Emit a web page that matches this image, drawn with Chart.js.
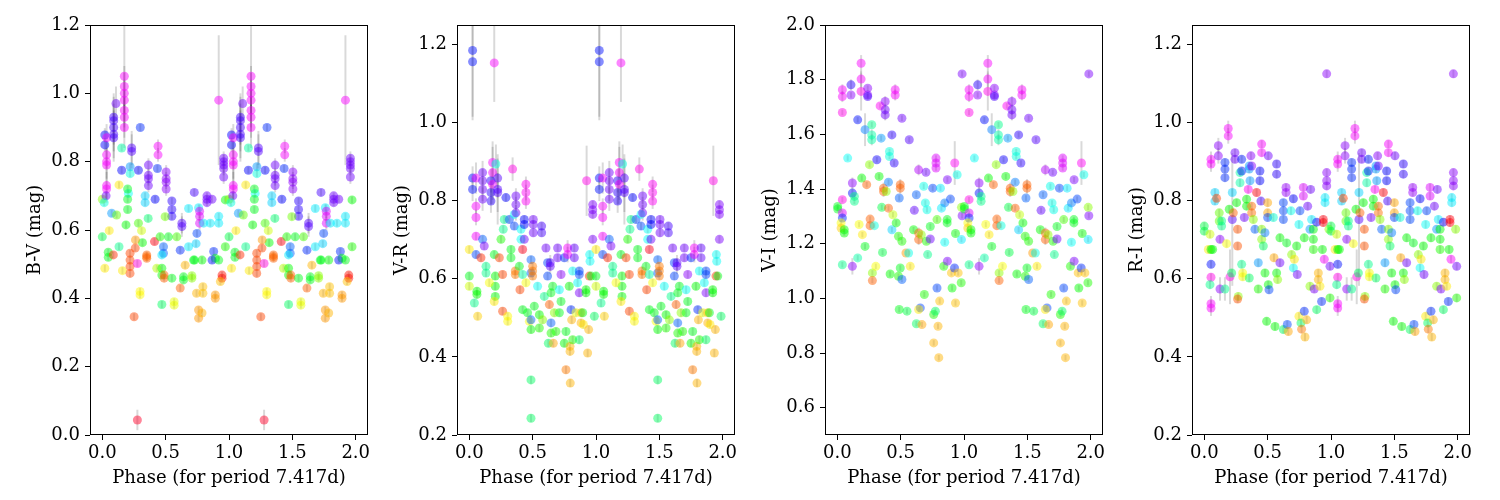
<!DOCTYPE html>
<html>
<head>
<meta charset="utf-8">
<script src="https://cdn.jsdelivr.net/npm/chart.js@4.4.1/dist/chart.umd.min.js"></script>
<style>
  body { margin: 0; background: #fff; width: 1500px; height: 500px; position: relative; overflow: hidden; }
  canvas { position: absolute; top: 0; }
</style>
</head>
<body>
<canvas id="bv" width="380" height="500" style="left:0px"></canvas>
<canvas id="vr" width="380" height="500" style="left:367px"></canvas>
<canvas id="vi" width="380" height="500" style="left:735px"></canvas>
<canvas id="ri" width="380" height="500" style="left:1102px"></canvas>
<script>
// one cycle of phase per panel, drawn twice (phase and phase + 1)
// epoch = colour key of the observation night (0..1 on gist_rainbow)

// ---- B-V ----
const bvPhase = [
  0.02,0.02,0.00,0.034,0.034,0.034,0.034,0.034,0.034,0.03,
  0.015,0.108,0.09,0.09,0.09,0.09,0.09,0.153,0.174,0.174,
  0.174,0.174,0.174,0.174,0.174,0.232,0.232,0.22,0.22,0.30,
  0.153,0.285,0.364,0.364,0.364,0.364,0.44,0.44,0.435,0.504,
  0.504,0.504,0.504,0.417,0.338,0.338,0.549,0.549,0.549,0.628,
  0.628,0.726,0.76,0.768,0.768,0.768,0.826,0.826,0.826,0.866,
  0.919,0.958,0.958,0.958,0.958,0.958,0.919,0.919,
  0.0,0.055,0.132,0.074,0.113,0.132,0.187,0.206,0.20,0.20,
  0.20,0.285,0.31,0.317,0.362,0.35,0.412,0.456,0.483,0.483,
  0.522,0.496,0.615,0.588,0.681,0.681,0.728,0.747,0.80,0.787,
  0.852,0.879,0.892,0.971,0.971,
  0.02,0.047,0.047,0.087,0.159,0.219,0.219,0.219,0.219,0.251,
  0.277,0.277,0.298,0.298,0.351,0.351,0.43,0.47,0.47,0.47,
  0.47,0.488,0.488,0.549,0.567,0.567,0.615,0.641,0.641,0.654,
  0.707,0.707,0.72,0.744,0.76,0.76,0.787,0.794,0.794,0.892,
  0.892,0.945,0.945,0.932,0.866,0.919,0.262,0.26,0.74
];
const bvValue = [
  0.878,0.849,0.69,0.87,0.82,0.80,0.79,0.73,0.72,0.70,
  0.68,0.97,0.93,0.92,0.90,0.88,0.87,0.84,1.05,1.02,
  1.00,0.98,0.95,0.93,0.90,0.84,0.83,0.785,0.765,0.90,
  0.775,0.775,0.79,0.76,0.75,0.73,0.845,0.82,0.78,0.77,
  0.75,0.74,0.72,0.69,0.70,0.68,0.685,0.66,0.64,0.62,
  0.61,0.71,0.665,0.655,0.64,0.62,0.70,0.69,0.68,0.69,
  0.98,0.81,0.80,0.79,0.78,0.755,0.64,0.62,
  0.58,0.598,0.551,0.649,0.644,0.732,0.615,0.707,0.72,0.69,
  0.66,0.62,0.598,0.563,0.634,0.522,0.566,0.58,0.551,0.532,
  0.58,0.639,0.541,0.58,0.663,0.551,0.512,0.59,0.62,0.512,
  0.62,0.537,0.517,0.688,0.551,
  0.488,0.535,0.52,0.527,0.481,0.532,0.512,0.493,0.473,0.346,
  0.044,0.502,0.42,0.41,0.527,0.517,0.488,0.488,0.468,0.527,
  0.382,0.468,0.459,0.459,0.39,0.38,0.43,0.463,0.454,0.497,
  0.466,0.459,0.512,0.415,0.366,0.342,0.357,0.434,0.415,0.41,
  0.40,0.468,0.459,0.449,0.512,0.512,0.571,0.547,0.56
];
const bvErr = [
  0.02,0.02,0.01,0.04,0.04,0.04,0.04,0.04,0.04,0.01,
  0.01,0.05,0.07,0.07,0.07,0.07,0.07,0.01,0.15,0.06,
  0.06,0.06,0.06,0.06,0.06,0.05,0.05,0.01,0.01,0.01,
  0.01,0.01,0.02,0.02,0.02,0.02,0.02,0.02,0.01,0.02,
  0.02,0.02,0.02,0.01,0.01,0.01,0.01,0.01,0.01,0.03,
  0.03,0.01,0.01,0.02,0.02,0.02,0.01,0.01,0.01,0.01,
  0.19,0.02,0.02,0.02,0.02,0.02,0.01,0.01,
  0.01,0.01,0.01,0.01,0.01,0.01,0.01,0.01,0.01,0.01,
  0.01,0.01,0.01,0.01,0.01,0.01,0.01,0.01,0.01,0.01,
  0.01,0.01,0.01,0.01,0.01,0.01,0.01,0.01,0.01,0.01,
  0.01,0.01,0.01,0.01,0.01,
  0.01,0.01,0.01,0.01,0.01,0.01,0.01,0.01,0.01,0.01,
  0.03,0.01,0.01,0.01,0.01,0.01,0.01,0.01,0.01,0.01,
  0.01,0.01,0.01,0.01,0.01,0.01,0.01,0.01,0.01,0.01,
  0.01,0.01,0.01,0.01,0.01,0.01,0.01,0.01,0.01,0.01,
  0.01,0.01,0.01,0.01,0.01,0.01,0.01,0.01,0.01
];
const bvEpoch = [
  0.77,0.77,0.30,0.95,0.95,0.95,0.95,0.95,0.95,0.85,
  0.56,0.85,0.82,0.82,0.82,0.82,0.82,0.52,0.95,0.95,
  0.95,0.95,0.95,0.95,0.95,0.83,0.83,0.66,0.56,0.74,
  0.77,0.77,0.85,0.85,0.85,0.85,0.95,0.95,0.74,0.87,
  0.87,0.87,0.87,0.77,0.62,0.62,0.80,0.80,0.80,0.83,
  0.83,0.82,0.60,0.93,0.93,0.93,0.85,0.85,0.85,0.85,
  0.95,0.85,0.85,0.85,0.85,0.85,0.60,0.60,
  0.45,0.20,0.50,0.66,0.33,0.20,0.40,0.58,0.42,0.42,
  0.42,0.35,0.25,0.40,0.48,0.12,0.02,0.38,0.70,0.70,
  0.42,0.32,0.74,0.35,0.60,0.60,0.42,0.72,0.60,0.40,
  0.60,0.74,0.42,0.40,0.38,
  0.20,0.42,0.42,0.06,0.20,0.08,0.08,0.08,0.08,0.08,
  0.00,0.98,0.21,0.21,0.10,0.10,0.27,0.40,0.40,0.60,
  0.47,0.10,0.10,0.42,0.23,0.23,0.10,0.42,0.42,0.16,
  0.30,0.30,0.42,0.16,0.14,0.14,0.16,0.17,0.17,0.14,
  0.14,0.04,0.04,0.17,0.76,0.42,0.14,0.08,0.62
];

// ---- V-R ----
const vrPhase = [
  0.026,0.026,0.197,0.026,0.026,0.053,0.053,0.053,0.053,0.0,
  0.0,0.0,0.053,0.04,0.066,0.06,0.06,0.105,0.105,0.105,
  0.105,0.092,0.105,0.118,0.132,0.132,0.171,0.171,0.171,0.184,
  0.184,0.184,0.21,0.197,0.224,0.224,0.224,0.205,0.205,0.205,
  0.237,0.158,0.197,0.263,0.263,0.25,0.268,0.276,0.289,0.316,
  0.303,0.303,0.329,0.329,0.342,0.355,0.355,0.368,0.368,0.368,
  0.363,0.363,0.395,0.40,0.408,0.408,0.421,0.434,0.434,0.434,
  0.421,0.447,0.447,0.447,0.421,0.447,0.46,0.474,0.487,0.487,
  0.487,0.487,0.487,0.487,0.50,0.50,0.50,0.505,0.505,0.505,
  0.513,0.539,0.553,0.571,0.571,0.579,0.553,0.592,0.605,0.618,
  0.618,0.624,0.632,0.639,0.639,0.645,0.645,0.645,0.663,0.658,
  0.671,0.684,0.697,0.697,0.711,0.724,0.711,0.724,0.75,0.75,
  0.763,0.763,0.776,0.776,0.789,0.795,0.795,0.797,0.803,0.808,
  0.816,0.829,0.829,0.816,0.842,0.855,0.868,0.868,0.868,0.882,
  0.882,0.868,0.895,0.90,0.921,0.921,0.926,0.934,0.942,0.947,
  0.974,0.974,0.974,0.974,0.987,0.95,0.953,0.961
];
const vrValue = [
  1.185,1.156,1.153,0.858,0.829,0.858,0.786,0.757,0.709,0.675,
  0.607,0.581,0.662,0.538,0.504,0.568,0.560,0.872,0.851,0.829,
  0.804,0.654,0.701,0.684,0.632,0.615,0.851,0.821,0.799,0.898,
  0.872,0.842,0.894,0.662,0.858,0.829,0.821,0.607,0.581,0.555,
  0.654,0.590,0.542,0.611,0.517,0.701,0.727,0.752,0.808,0.752,
  0.504,0.491,0.675,0.654,0.881,0.765,0.735,0.812,0.790,0.769,
  0.620,0.611,0.632,0.572,0.727,0.701,0.675,0.752,0.739,0.701,
  0.611,0.842,0.821,0.799,0.521,0.590,0.513,0.491,0.470,0.649,
  0.615,0.495,0.341,0.243,0.632,0.620,0.607,0.752,0.739,0.718,
  0.530,0.581,0.508,0.735,0.718,0.495,0.474,0.555,0.679,0.641,
  0.607,0.435,0.534,0.641,0.632,0.564,0.487,0.461,0.435,0.581,
  0.513,0.465,0.679,0.654,0.572,0.542,0.513,0.611,0.435,0.654,
  0.367,0.465,0.679,0.662,0.581,0.414,0.427,0.333,0.521,0.495,
  0.620,0.679,0.654,0.444,0.513,0.590,0.444,0.611,0.620,0.513,
  0.487,0.564,0.513,0.483,0.572,0.564,0.851,0.410,0.470,0.607,
  0.701,0.790,0.777,0.765,0.504,0.662,0.645,0.607
];
const vrErr = [
  0.17,0.15,0.10,0.03,0.03,0.04,0.02,0.02,0.01,0.01,
  0.01,0.01,0.01,0.01,0.01,0.01,0.01,0.03,0.03,0.03,
  0.03,0.01,0.01,0.01,0.01,0.01,0.03,0.03,0.03,0.04,
  0.08,0.04,0.05,0.01,0.05,0.09,0.05,0.01,0.01,0.01,
  0.01,0.01,0.01,0.01,0.01,0.01,0.01,0.01,0.01,0.01,
  0.01,0.01,0.01,0.01,0.03,0.01,0.01,0.02,0.02,0.02,
  0.01,0.01,0.01,0.01,0.01,0.01,0.01,0.01,0.01,0.01,
  0.01,0.02,0.02,0.02,0.01,0.01,0.01,0.01,0.01,0.01,
  0.01,0.01,0.01,0.01,0.01,0.01,0.01,0.01,0.01,0.01,
  0.01,0.01,0.01,0.01,0.01,0.01,0.01,0.01,0.01,0.01,
  0.01,0.01,0.01,0.02,0.02,0.01,0.01,0.01,0.01,0.01,
  0.01,0.01,0.01,0.01,0.01,0.01,0.01,0.01,0.01,0.01,
  0.01,0.01,0.02,0.02,0.01,0.01,0.01,0.01,0.01,0.01,
  0.01,0.01,0.01,0.01,0.01,0.01,0.01,0.01,0.01,0.01,
  0.01,0.01,0.01,0.01,0.01,0.01,0.09,0.01,0.01,0.01,
  0.01,0.01,0.01,0.01,0.01,0.01,0.01,0.01
];
const vrEpoch = [
  0.76,0.76,0.95,0.76,0.76,0.95,0.95,0.95,0.95,0.20,
  0.42,0.25,0.72,0.50,0.18,0.40,0.40,0.85,0.85,0.85,
  0.85,0.06,0.70,0.86,0.50,0.50,0.80,0.80,0.80,0.95,
  0.95,0.95,0.56,0.42,0.83,0.83,0.83,0.40,0.40,0.40,
  0.08,0.22,0.20,0.08,0.08,0.38,0.50,0.50,0.77,0.72,
  0.21,0.21,0.42,0.42,0.97,0.58,0.72,0.85,0.85,0.85,
  0.12,0.12,0.42,0.08,0.58,0.58,0.01,0.77,0.77,0.85,
  0.52,0.96,0.96,0.96,0.42,0.22,0.42,0.22,0.40,0.70,
  0.70,0.70,0.47,0.47,0.12,0.12,0.12,0.85,0.85,0.85,
  0.42,0.58,0.40,0.82,0.82,0.30,0.38,0.50,0.85,0.72,
  0.72,0.47,0.10,0.84,0.84,0.42,0.70,0.38,0.15,0.42,
  0.30,0.38,0.85,0.85,0.58,0.42,0.42,0.87,0.40,0.74,
  0.12,0.42,0.95,0.95,0.40,0.16,0.16,0.16,0.74,0.16,
  0.58,0.84,0.84,0.38,0.23,0.58,0.47,0.72,0.72,0.16,
  0.16,0.86,0.42,0.20,0.40,0.40,0.97,0.16,0.16,0.07,
  0.86,0.86,0.86,0.86,0.47,0.58,0.58,0.42
];

// ---- V-I ----
const viPhase = [
  0.003,0.003,0.04,0.04,0.04,0.04,0.04,0.04,0.04,0.03,
  0.03,0.055,0.055,0.082,0.108,0.108,0.119,0.119,0.119,0.135,
  0.135,0.161,0.161,0.172,0.188,0.188,0.188,0.193,0.198,0.219,
  0.219,0.232,0.24,0.24,0.24,0.254,0.259,0.259,0.272,0.272,
  0.272,0.277,0.277,0.293,0.304,0.312,0.33,0.338,0.346,0.351,
  0.357,0.365,0.365,0.378,0.378,0.378,0.386,0.404,0.404,0.412,
  0.412,0.417,0.431,0.439,0.431,0.449,0.457,0.457,0.465,0.483,
  0.51,0.483,0.489,0.497,0.497,0.489,0.497,0.51,0.51,0.542,
  0.55,0.563,0.568,0.576,0.602,0.608,0.624,0.624,0.642,0.642,
  0.642,0.655,0.642,0.668,0.663,0.682,0.687,0.695,0.70,0.703,
  0.708,0.713,0.734,0.734,0.753,0.761,0.761,0.774,0.787,0.779,
  0.779,0.779,0.787,0.795,0.801,0.808,0.814,0.822,0.84,0.848,
  0.848,0.869,0.867,0.867,0.869,0.893,0.901,0.906,0.925,0.927,
  0.933,0.933,0.946,0.954,0.978,0.98,0.985,0.985,0.98
];
const viValue = [
  1.336,1.327,1.763,1.738,1.680,1.361,1.312,1.294,1.123,1.276,
  1.257,1.251,1.239,1.513,1.781,1.744,1.422,1.385,1.117,1.373,
  1.355,1.653,1.148,1.270,1.860,1.802,1.757,1.440,1.233,1.617,
  1.190,1.416,1.769,1.744,1.738,1.489,1.290,1.266,1.635,1.598,
  1.580,1.093,1.065,1.266,1.117,1.507,1.446,1.704,1.586,1.333,
  1.168,1.403,1.391,1.720,1.690,1.671,1.391,1.425,1.330,1.537,
  1.519,1.089,1.598,1.306,1.251,1.495,1.763,1.744,1.276,1.227,
  1.209,1.081,1.367,1.416,1.403,0.959,1.111,1.659,1.069,1.166,
  0.953,1.166,1.580,1.117,1.251,1.322,1.379,0.907,1.470,1.239,
  1.215,0.965,0.959,0.904,1.233,1.410,1.014,1.349,1.461,1.209,
  1.324,1.160,1.263,1.217,1.403,0.837,0.941,0.953,1.288,1.513,
  1.495,1.477,1.038,0.898,0.783,0.990,1.403,1.330,1.117,1.349,
  1.205,1.434,1.288,1.276,1.136,1.363,1.093,1.038,1.111,1.495,
  0.983,1.237,1.452,1.093,1.057,1.215,1.821,1.302,1.333
];
const viErr = [
  0.01,0.01,0.02,0.02,0.01,0.01,0.01,0.01,0.01,0.01,
  0.01,0.01,0.01,0.01,0.02,0.01,0.02,0.02,0.03,0.01,
  0.01,0.01,0.01,0.01,0.03,0.03,0.07,0.01,0.01,0.06,
  0.01,0.01,0.01,0.01,0.01,0.01,0.01,0.01,0.01,0.02,
  0.02,0.01,0.01,0.01,0.01,0.01,0.01,0.01,0.01,0.01,
  0.01,0.02,0.02,0.02,0.02,0.02,0.01,0.01,0.01,0.01,
  0.01,0.01,0.01,0.01,0.01,0.01,0.02,0.02,0.01,0.01,
  0.01,0.01,0.01,0.02,0.02,0.01,0.01,0.01,0.01,0.01,
  0.01,0.01,0.01,0.01,0.01,0.01,0.01,0.01,0.02,0.02,
  0.02,0.01,0.01,0.01,0.01,0.01,0.01,0.01,0.01,0.01,
  0.01,0.01,0.01,0.01,0.01,0.01,0.01,0.01,0.01,0.01,
  0.01,0.01,0.01,0.01,0.01,0.01,0.01,0.01,0.01,0.01,
  0.01,0.01,0.01,0.01,0.01,0.01,0.01,0.01,0.01,0.08,
  0.01,0.01,0.01,0.01,0.01,0.01,0.01,0.01,0.01
];
const viEpoch = [
  0.42,0.42,0.95,0.95,0.97,0.97,0.93,0.74,0.50,0.22,
  0.18,0.40,0.40,0.58,0.80,0.87,0.87,0.76,0.87,0.50,
  0.50,0.76,0.52,0.22,0.95,0.95,0.97,0.40,0.20,0.68,
  0.42,0.10,0.87,0.87,0.82,0.30,0.10,0.10,0.50,0.52,
  0.52,0.30,0.10,0.56,0.22,0.78,0.40,0.96,0.66,0.45,
  0.45,0.10,0.10,0.87,0.85,0.85,0.30,0.68,0.10,0.56,
  0.56,0.40,0.80,0.26,0.62,0.80,0.95,0.95,0.40,0.38,
  0.38,0.38,0.70,0.10,0.10,0.42,0.42,0.85,0.70,0.14,
  0.45,0.57,0.83,0.20,0.40,0.84,0.70,0.47,0.90,0.10,
  0.10,0.72,0.20,0.15,0.30,0.57,0.38,0.57,0.85,0.38,
  0.57,0.50,0.42,0.85,0.72,0.16,0.38,0.47,0.35,0.93,
  0.93,0.93,0.72,0.16,0.16,0.17,0.60,0.60,0.38,0.68,
  0.58,0.86,0.42,0.42,0.86,0.72,0.17,0.40,0.74,0.96,
  0.17,0.40,0.57,0.17,0.38,0.60,0.86,0.86,0.30
];

// ---- R-I ----
const riPhase = [
  0.0,0.0,0.032,0.045,0.053,0.053,0.053,0.053,0.053,0.045,
  0.053,0.053,0.066,0.084,0.084,0.097,0.111,0.111,0.118,0.118,
  0.124,0.124,0.137,0.137,0.163,0.163,0.163,0.163,0.176,0.189,
  0.189,0.197,0.203,0.221,0.221,0.216,0.229,0.242,0.242,0.255,
  0.263,0.263,0.268,0.263,0.282,0.282,0.295,0.295,0.295,0.303,
  0.303,0.316,0.334,0.334,0.347,0.355,0.355,0.361,0.368,0.374,
  0.374,0.374,0.355,0.387,0.40,0.413,0.426,0.426,0.439,0.439,
  0.447,0.453,0.453,0.453,0.453,0.466,0.479,0.479,0.492,0.50,
  0.50,0.50,0.505,0.505,0.511,0.545,0.55,0.558,0.571,0.571,
  0.571,0.579,0.597,0.597,0.624,0.624,0.624,0.624,0.645,0.645,
  0.65,0.655,0.663,0.684,0.689,0.703,0.703,0.711,0.729,0.734,
  0.747,0.755,0.747,0.763,0.768,0.782,0.782,0.789,0.789,0.795,
  0.808,0.816,0.834,0.834,0.839,0.847,0.861,0.861,0.861,0.887,
  0.868,0.887,0.90,0.90,0.913,0.926,0.932,0.939,0.939,0.947,
  0.953,0.953,0.966,0.966,0.966,0.966,0.984,0.992,0.992
];
const riValue = [
  0.735,0.722,0.675,0.714,0.906,0.894,0.675,0.637,0.604,0.585,
  0.536,0.525,0.675,0.821,0.799,0.806,0.941,0.915,0.769,0.748,
  0.701,0.574,0.748,0.735,0.898,0.881,0.859,0.574,0.690,0.985,
  0.966,0.778,0.605,0.821,0.752,0.615,0.769,0.923,0.906,0.795,
  0.727,0.684,0.555,0.548,0.872,0.846,0.906,0.876,0.637,0.615,
  0.605,0.757,0.804,0.786,0.829,0.889,0.881,0.851,0.915,0.889,
  0.786,0.769,0.602,0.752,0.727,0.821,0.641,0.574,0.876,0.851,
  0.799,0.945,0.923,0.727,0.701,0.684,0.718,0.615,0.491,0.795,
  0.769,0.757,0.915,0.585,0.572,0.757,0.654,0.478,0.894,0.868,
  0.615,0.598,0.705,0.641,0.795,0.774,0.752,0.470,0.834,0.821,
  0.692,0.483,0.465,0.774,0.662,0.805,0.628,0.650,0.684,0.611,
  0.739,0.774,0.504,0.487,0.471,0.834,0.812,0.705,0.517,0.451,
  0.495,0.786,0.727,0.581,0.829,0.752,0.727,0.701,0.675,0.745,
  0.574,0.521,0.598,0.615,0.581,0.542,0.675,0.752,0.744,0.650,
  0.808,0.795,0.872,0.851,0.838,1.125,0.727,0.551,0.632
];
const riErr = [
  0.01,0.01,0.01,0.01,0.02,0.02,0.01,0.01,0.01,0.01,
  0.02,0.02,0.01,0.01,0.01,0.01,0.02,0.02,0.01,0.01,
  0.01,0.03,0.01,0.01,0.01,0.01,0.01,0.03,0.01,0.02,
  0.02,0.01,0.07,0.01,0.17,0.01,0.01,0.01,0.01,0.01,
  0.01,0.01,0.01,0.01,0.01,0.01,0.01,0.01,0.01,0.01,
  0.01,0.01,0.01,0.01,0.01,0.01,0.01,0.01,0.01,0.01,
  0.01,0.01,0.01,0.01,0.01,0.01,0.01,0.01,0.01,0.01,
  0.01,0.01,0.01,0.01,0.01,0.01,0.01,0.01,0.01,0.01,
  0.01,0.01,0.01,0.01,0.01,0.01,0.01,0.01,0.01,0.01,
  0.01,0.01,0.01,0.01,0.01,0.01,0.01,0.01,0.01,0.01,
  0.01,0.01,0.01,0.01,0.01,0.01,0.01,0.01,0.01,0.01,
  0.01,0.01,0.01,0.01,0.01,0.01,0.01,0.01,0.01,0.01,
  0.01,0.01,0.01,0.01,0.01,0.01,0.01,0.01,0.01,0.01,
  0.01,0.01,0.01,0.01,0.01,0.01,0.01,0.01,0.01,0.01,
  0.01,0.01,0.01,0.01,0.01,0.01,0.01,0.01,0.01
];
const riEpoch = [
  0.45,0.45,0.20,0.25,0.95,0.95,0.40,0.76,0.97,0.50,
  0.95,0.95,0.40,0.62,0.62,0.08,0.87,0.87,0.33,0.33,
  0.87,0.87,0.50,0.50,0.74,0.74,0.74,0.50,0.22,0.95,
  0.95,0.40,0.97,0.62,0.83,0.47,0.10,0.85,0.85,0.40,
  0.09,0.09,0.30,0.09,0.52,0.52,0.75,0.75,0.50,0.22,
  0.22,0.85,0.40,0.40,0.96,0.66,0.66,0.66,0.87,0.87,
  0.11,0.11,0.47,0.30,0.70,0.02,0.66,0.38,0.77,0.77,
  0.82,0.95,0.95,0.30,0.30,0.47,0.68,0.40,0.40,0.15,
  0.15,0.72,0.85,0.40,0.72,0.55,0.15,0.40,0.80,0.80,
  0.40,0.30,0.40,0.85,0.72,0.72,0.72,0.47,0.88,0.88,
  0.42,0.72,0.15,0.57,0.30,0.77,0.58,0.20,0.40,0.85,
  0.58,0.72,0.20,0.47,0.12,0.93,0.93,0.40,0.74,0.16,
  0.16,0.85,0.66,0.30,0.85,0.60,0.40,0.40,0.38,0.78,
  0.86,0.47,0.16,0.16,0.20,0.74,0.40,0.02,0.02,0.95,
  0.60,0.60,0.87,0.87,0.87,0.87,0.30,0.38,0.85
];

const xTicks = [0.0, 0.5, 1.0, 1.5, 2.0];
const xLabel = 'Phase (for period 7.417d)';

// matplotlib gist_rainbow
const rainbowStops = [
  [0.000, 1, 0, 0.16], [0.030, 1, 0, 0], [0.215, 1, 1, 0], [0.400, 0, 1, 0],
  [0.586, 0, 1, 1], [0.770, 0, 0, 1], [0.954, 1, 0, 1], [1.000, 1, 0, 0.75]
];
function rainbow(t, alpha) {
  for (let i = 1; i < rainbowStops.length; i++) {
    const b = rainbowStops[i];
    if (t <= b[0]) {
      const a = rainbowStops[i - 1];
      const f = (t - a[0]) / (b[0] - a[0]);
      const ch = k => Math.round(255 * (a[k] + (b[k] - a[k]) * f));
      return `rgba(${ch(1)},${ch(2)},${ch(3)},${alpha})`;
    }
  }
  return `rgba(255,0,191,${alpha})`;
}

const font = { family: 'DejaVu Serif', size: 18 };
Chart.defaults.color = '#000';

// vertical error bars under the markers
const errBars = {
  id: 'errBars',
  beforeDatasetsDraw(chart) {
    const g = chart.ctx, a = chart.chartArea;
    const xs = chart.scales.x, ys = chart.scales.y;
    g.save();
    g.beginPath();
    g.rect(a.left, a.top, a.right - a.left, a.bottom - a.top);
    g.clip();
    g.strokeStyle = 'rgba(0,0,0,0.15)';
    g.lineWidth = 2;
    chart.data.datasets[0].data.forEach(p => {
      const x = xs.getPixelForValue(p.x);
      g.beginPath();
      g.moveTo(x, ys.getPixelForValue(p.y - p.e));
      g.lineTo(x, ys.getPixelForValue(p.y + p.e));
      g.stroke();
    });
    g.restore();
  }
};

// closed box round the axes
const frame = {
  id: 'frame',
  afterDatasetsDraw(chart) {
    const g = chart.ctx, a = chart.chartArea;
    g.save();
    g.strokeStyle = '#000';
    g.lineWidth = 1;
    g.strokeRect(Math.round(a.left) + 0.5, Math.round(a.top) + 0.5,
                 Math.round(a.right - a.left) - 1, Math.round(a.bottom - a.top) - 1);
    g.restore();
  }
};

function panel(id, phase, value, err, epoch, yMin, yMax, yLabel) {
  const pts = [];
  [0, 1].forEach(cycle => {
    phase.forEach((p, i) => pts.push({ x: p + cycle, y: value[i], e: err[i], c: epoch[i] }));
  });

  new Chart(document.getElementById(id), {
    type: 'scatter',
    data: {
      datasets: [{
        data: pts,
        pointRadius: 4.5,
        pointBorderWidth: 0,
        pointBackgroundColor: pts.map(p => rainbow(p.c, 0.48)),
        clip: 0
      }]
    },
    options: {
      responsive: false,
      animation: false,
      events: [],
      layout: { padding: { left: 0, right: 12, top: 25, bottom: 0 } },
      plugins: { legend: { display: false }, tooltip: { enabled: false } },
      scales: {
        x: {
          type: 'linear',
          min: -0.097,
          max: 2.097,
          afterFit: s => { s.height = 65; },
          afterBuildTicks: s => { s.ticks = xTicks.map(v => ({ value: v })); },
          grid: { drawOnChartArea: false, drawTicks: true, tickLength: 5, color: '#000' },
          border: { display: false },
          ticks: { font, color: '#000', padding: 3, maxRotation: 0, autoSkip: false,
                   callback: v => v.toFixed(1) },
          title: { display: true, text: xLabel, font, color: '#000', padding: { top: 0, bottom: 11 } }
        },
        y: {
          type: 'linear',
          min: yMin,
          max: yMax,
          afterFit: s => { s.width = 90; },
          grid: { drawOnChartArea: false, drawTicks: true, tickLength: 5, color: '#000' },
          border: { display: false },
          ticks: { font, color: '#000', padding: 5, stepSize: 0.2, includeBounds: false, autoSkip: false,
                   callback: v => v.toFixed(1) },
          title: { display: true, text: yLabel, font, color: '#000', padding: { top: 25, bottom: 0 } }
        }
      }
    },
    plugins: [errBars, frame]
  });
}

panel('bv', bvPhase, bvValue, bvErr, bvEpoch, 0.0, 1.2, 'B-V (mag)');
panel('vr', vrPhase, vrValue, vrErr, vrEpoch, 0.2, 1.25, 'V-R (mag)');
panel('vi', viPhase, viValue, viErr, viEpoch, 0.5, 2.0, 'V-I (mag)');
panel('ri', riPhase, riValue, riErr, riEpoch, 0.2, 1.25, 'R-I (mag)');
</script>
</body>
</html>
